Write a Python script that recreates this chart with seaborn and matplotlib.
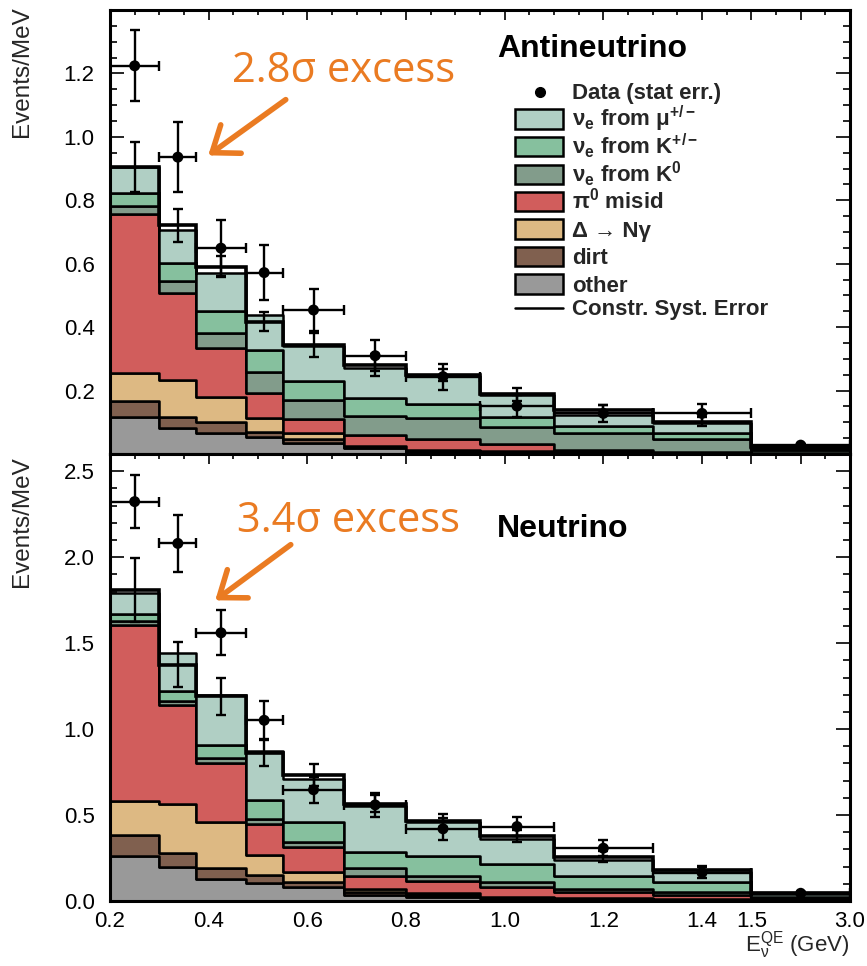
import numpy as np
import pandas as pd
import matplotlib
matplotlib.use("Agg")
import matplotlib.pyplot as plt
import seaborn as sns
from matplotlib.patches import Rectangle, FancyArrowPatch
from matplotlib.lines import Line2D
from matplotlib.ticker import FixedLocator, FixedFormatter

# ---------------- data ----------------
edges = [0.2, 0.3, 0.375, 0.475, 0.55, 0.675, 0.8, 0.95, 1.1, 1.3, 1.5, 3.0]
xtick_values = [0.2, 0.4, 0.6, 0.8, 1.0, 1.2, 1.4, 1.5, 2.25, 3.0]
xtick_labels = ["0.2", "0.4", "0.6", "0.8", "1.0", "1.2", "1.4", "1.5", "", "3.0"]

components = ["mu", "Kpm", "K0", "pi0", "delta", "dirt", "other"]
comp_labels = [r"ν$_{\mathbf{e}}$ from μ$^{\mathbf{+/-}}$",
               r"ν$_{\mathbf{e}}$ from K$^{\mathbf{+/-}}$",
               r"ν$_{\mathbf{e}}$ from K$^{\mathbf{0}}$",
               r"π$^{\mathbf{0}}$ misid",
               "Δ → Nγ", "dirt", "other"]
comp_colors = ["#b0cfc4", "#86c09e", "#829c8b", "#d15d5c", "#ddb983", "#80604f", "#999999"]

# Antineutrino mode (Events/MeV)
anu_mu    = [0.084, 0.106, 0.119, 0.110, 0.108, 0.094, 0.088, 0.067, 0.036, 0.030, 0.005]
anu_kpm   = [0.040, 0.057, 0.070, 0.068, 0.061, 0.055, 0.044, 0.032, 0.023, 0.021, 0.003]
anu_k0    = [0.026, 0.037, 0.048, 0.067, 0.061, 0.061, 0.067, 0.054, 0.052, 0.040, 0.008]
anu_pi0   = [0.500, 0.274, 0.152, 0.078, 0.042, 0.035, 0.033, 0.022, 0.006, 0.002, 0.001]
anu_delta = [0.088, 0.117, 0.079, 0.045, 0.021, 0.003, 0.003, 0.002, 0.001, 0.001, 0.001]
anu_dirt  = [0.051, 0.035, 0.035, 0.015, 0.010, 0.004, 0.004, 0.003, 0.002, 0.001, 0.001]
anu_other = [0.117, 0.081, 0.067, 0.055, 0.036, 0.018, 0.006, 0.005, 0.004, 0.002, 0.001]
anu_data   = [1.224, 0.936, 0.649, 0.572, 0.454, 0.310, 0.244, 0.151, 0.128, 0.128, 0.028]
anu_stat   = [0.112, 0.110, 0.088, 0.087, 0.066, 0.048, 0.041, 0.035, 0.027, 0.030, 0.005]
anu_constr = [0.906, 0.722, 0.591, 0.417, 0.344, 0.280, 0.249, 0.188, 0.139, 0.102, 0.022]
anu_syst   = [0.079, 0.052, 0.033, 0.030, 0.039, 0.035, 0.020, 0.020, 0.015, 0.015, 0.004]

# Neutrino mode (Events/MeV)
nu_mu    = [0.123, 0.223, 0.291, 0.281, 0.247, 0.268, 0.200, 0.144, 0.093, 0.057, 0.015]
nu_kpm   = [0.039, 0.059, 0.080, 0.113, 0.116, 0.097, 0.116, 0.103, 0.078, 0.063, 0.010]
nu_k0    = [0.020, 0.019, 0.027, 0.027, 0.029, 0.044, 0.029, 0.029, 0.014, 0.015, 0.005]
nu_pi0   = [1.029, 0.579, 0.343, 0.181, 0.150, 0.078, 0.072, 0.059, 0.036, 0.021, 0.005]
nu_delta = [0.198, 0.285, 0.268, 0.116, 0.056, 0.014, 0.010, 0.005, 0.004, 0.003, 0.001]
nu_dirt  = [0.119, 0.082, 0.063, 0.049, 0.027, 0.019, 0.010, 0.005, 0.004, 0.003, 0.002]
nu_other = [0.262, 0.196, 0.128, 0.103, 0.084, 0.035, 0.025, 0.015, 0.010, 0.008, 0.002]
nu_data   = [2.323, 2.080, 1.560, 1.051, 0.647, 0.559, 0.420, 0.433, 0.307, 0.165, 0.045]
nu_stat   = [0.155, 0.165, 0.130, 0.110, 0.075, 0.070, 0.065, 0.055, 0.045, 0.030, 0.007]
nu_constr = [1.808, 1.375, 1.190, 0.863, 0.734, 0.565, 0.468, 0.379, 0.258, 0.183, 0.045]
nu_syst   = [0.187, 0.130, 0.110, 0.075, 0.064, 0.050, 0.040, 0.035, 0.030, 0.020, 0.005]

# ---------------- style ----------------
sns.set_theme(style="ticks")
plt.rcParams["font.family"] = ["Liberation Sans", "DejaVu Sans"]
plt.rcParams["mathtext.fontset"] = "custom"
plt.rcParams["mathtext.rm"] = "Liberation Sans"
plt.rcParams["mathtext.it"] = "Liberation Sans"
plt.rcParams["mathtext.bf"] = "Liberation Sans:bold"

W, H = 867, 966
fx = lambda px: px / W
fy = lambda py: 1 - py / H

fig = plt.figure(figsize=(W / 100, H / 100), dpi=100)
ax1 = fig.add_axes([fx(110), fy(454), (850 - 110) / W, (454 - 10) / H])
ax2 = fig.add_axes([fx(110), fy(901), (850 - 110) / W, (901 - 454) / H], sharex=ax1)

edges_a = np.array(edges)
centers = 0.5 * (edges_a[1:] + edges_a[:-1])
palette = dict(zip(components, comp_colors))


def draw_panel(ax, comps, data, stat, constr, syst):
    rows = []
    for name, vals in zip(components, comps):
        for c, v in zip(centers, vals):
            rows.append({"x": c, "w": v, "comp": name})
    df = pd.DataFrame(rows)
    sns.histplot(data=df, x="x", weights="w", hue="comp", hue_order=components,
                 palette=palette, bins=edges, multiple="stack", element="step",
                 fill=True, alpha=1, edgecolor="black", linewidth=1.8,
                 legend=False, ax=ax, stat="count")
    # constrained prediction with systematic error
    ax.stairs(constr, edges, color="black", lw=2.6, baseline=None, zorder=5)
    ax.errorbar(centers, constr, yerr=syst, fmt="none", ecolor="black",
                elinewidth=1.7, capsize=3.5, capthick=1.7, zorder=6)
    # data with stat error
    ax.errorbar(centers, data, xerr=[centers - edges_a[:-1], edges_a[1:] - centers],
                yerr=stat, fmt="none", ecolor="black", elinewidth=1.7,
                capsize=3.5, capthick=1.7, zorder=7)
    sns.scatterplot(x=centers, y=data, color="black", s=62, edgecolor="none",
                    ax=ax, zorder=8)
    ax.set_xlabel("")
    ax.set_ylabel("")


draw_panel(ax1, [anu_mu, anu_kpm, anu_k0, anu_pi0, anu_delta, anu_dirt, anu_other],
           anu_data, anu_stat, anu_constr, anu_syst)
draw_panel(ax2, [nu_mu, nu_kpm, nu_k0, nu_pi0, nu_delta, nu_dirt, nu_other],
           nu_data, nu_stat, nu_constr, nu_syst)


# compressed overflow bin: 1.5-3.0 shown as width 0.2
def fwd(x):
    x = np.asarray(x, dtype=float)
    return np.where(x <= 1.5, x, 1.5 + (x - 1.5) * (0.2 / 1.5))


def inv(y):
    y = np.asarray(y, dtype=float)
    return np.where(y <= 1.5, y, 1.5 + (y - 1.5) * 7.5)


for ax in (ax1, ax2):
    ax.set_xscale("function", functions=(fwd, inv))
ax1.set_xlim(0.2, 3.0)

minor_disp = np.round(np.arange(0.25, 1.70, 0.05), 3)
minor_disp = [m for m in minor_disp if abs(m / 0.2 - round(m / 0.2)) > 1e-6]
minor_x = inv(np.array(minor_disp))

for ax in (ax1, ax2):
    ax.xaxis.set_major_locator(FixedLocator(xtick_values))
    ax.xaxis.set_major_formatter(FixedFormatter(xtick_labels))
    ax.xaxis.set_minor_locator(FixedLocator(minor_x))
    for s in ax.spines.values():
        s.set_linewidth(2.2)
        s.set_color("black")
        s.set_zorder(10)
    ax.tick_params(axis="both", which="both", direction="in", top=True, right=True,
                   colors="black", labelsize=16)
    ax.tick_params(axis="x", which="major", length=7, width=1.2, pad=7)
    ax.tick_params(axis="x", which="minor", length=3.5, width=1.2)
    ax.tick_params(axis="y", which="major", length=10, width=1.2, pad=11)
    ax.tick_params(axis="y", which="minor", length=5, width=1.2)

ax1.tick_params(axis="x", labelbottom=False)

ax1.set_ylim(0, 1.4)
ax1.yaxis.set_major_locator(FixedLocator([0.2, 0.4, 0.6, 0.8, 1.0, 1.2]))
ax1.yaxis.set_major_formatter(FixedFormatter(["0.2", "0.4", "0.6", "0.8", "1.0", "1.2"]))
ax1.yaxis.set_minor_locator(FixedLocator(np.round(np.arange(0.05, 1.4, 0.05), 3)))

ax2.set_ylim(0, 2.6)
ax2.yaxis.set_major_locator(FixedLocator([0.0, 0.5, 1.0, 1.5, 2.0, 2.5]))
ax2.yaxis.set_major_formatter(FixedFormatter(["0.0", "0.5", "1.0", "1.5", "2.0", "2.5"]))
ax2.yaxis.set_minor_locator(FixedLocator(np.round(np.arange(0.1, 2.6, 0.1), 3)))

# ---------------- legend (drawn row by row, figure pixels) ----------------
leg_font = dict(family=["Liberation Sans", "DejaVu Sans"], weight="bold", size=16)
box_x0, box_x1, text_x = 515, 563, 572
row_y = [92] + [119 + 27.5 * i for i in range(7)] + [308]
labels = ["Data (stat err.)"] + comp_labels + ["Constr. Syst. Error"]
fig.add_artist(Line2D([fx(540)], [fy(row_y[0])], marker="o", color="black",
                      markersize=7, linestyle="none", transform=fig.transFigure))
for i, c in enumerate(comp_colors):
    yc = row_y[i + 1]
    fig.add_artist(Rectangle((fx(box_x0), fy(yc + 9.5)), (box_x1 - box_x0) / W, 19 / H,
                             facecolor=c, edgecolor="black", linewidth=1.8,
                             transform=fig.transFigure))
fig.add_artist(Line2D([fx(box_x0), fx(box_x1)], [fy(row_y[-1])] * 2, color="black",
                      lw=1.8, transform=fig.transFigure))
for lab, yc in zip(labels, row_y):
    fig.text(fx(text_x), fy(yc + 7.5), lab, ha="left", va="baseline", **leg_font)

# titles / labels
fig.text(fx(497), fy(49), "Antineutrino", fontsize=23, fontweight="bold",
         ha="left", va="center", color="black")
fig.text(fx(497), fy(529), "Neutrino", fontsize=23, fontweight="bold",
         ha="left", va="center", color="black")
fig.text(fx(22), fy(6), "Events/MeV", rotation=90, ha="center", va="top", fontsize=17.5)
fig.text(fx(22), fy(456), "Events/MeV", rotation=90, ha="center", va="top", fontsize=17.5)
fig.text(fx(849), fy(962), r"E$_{ν}^{\mathrm{QE}}$ (GeV)", ha="right", va="bottom",
         fontsize=16)

orange = "#ea7b22"
fig.text(fx(232), fy(82), "2.8σ excess", fontsize=30, color=orange,
         family=["Open Sans", "DejaVu Sans"], ha="left", va="baseline")
fig.text(fx(237), fy(532), "3.4σ excess", fontsize=30, color=orange,
         family=["Open Sans", "DejaVu Sans"], ha="left", va="baseline")
for (x0, y0, x1, y1) in [(288, 98, 206, 157), (293, 543, 213, 602)]:
    fig.add_artist(FancyArrowPatch(
        (fx(x0), fy(y0)), (fx(x1), fy(y1)), transform=fig.transFigure,
        arrowstyle="->,head_length=0.6,head_width=0.45", mutation_scale=28,
        lw=4, color=orange))

fig.savefig("out.png", dpi=100)
